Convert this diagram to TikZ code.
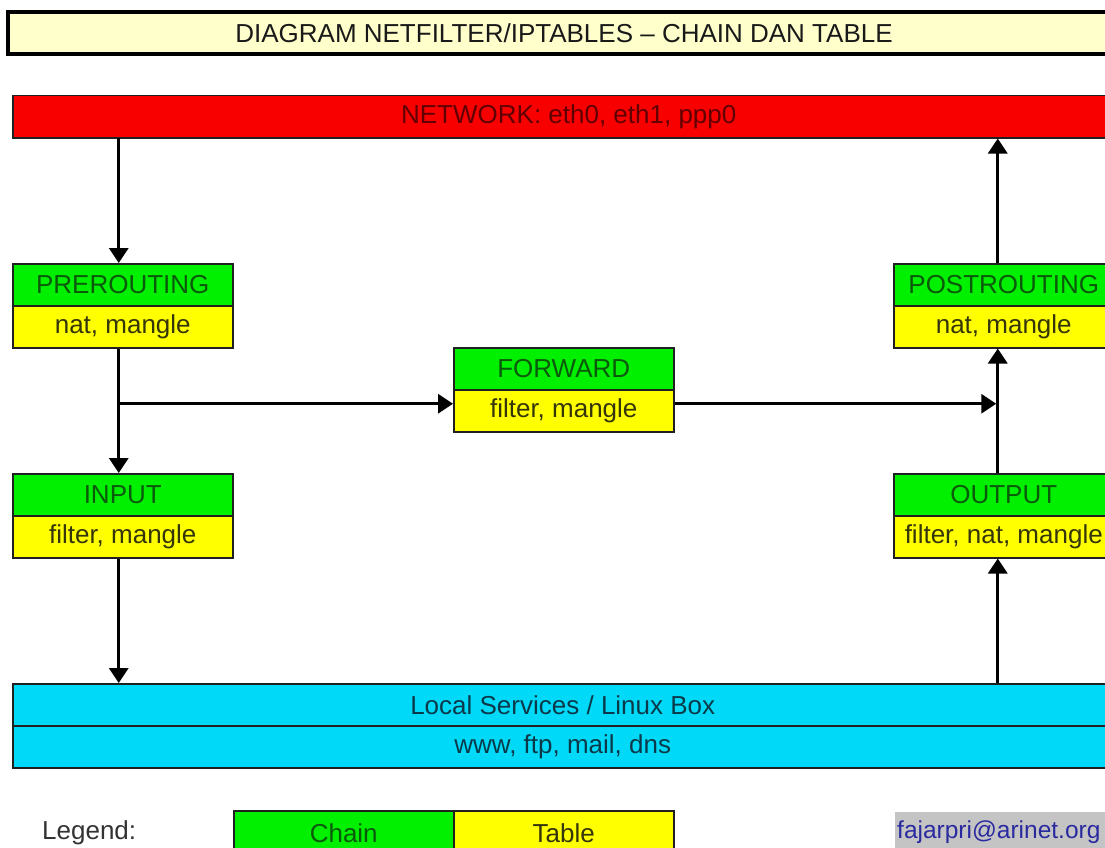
\documentclass[tikz,border=0pt]{standalone}
\usepackage{fontspec}
\setmainfont{Liberation Sans}
\usetikzlibrary{arrows.meta}
\definecolor{chaingreen}{HTML}{00F000}
\definecolor{chaintext}{HTML}{0B5A0B}
\definecolor{tableyellow}{HTML}{FFFF00}
\definecolor{tabletext}{HTML}{35350A}
\definecolor{netred}{HTML}{F80000}
\definecolor{nettext}{HTML}{600000}
\definecolor{loccyan}{HTML}{00DAF8}
\definecolor{loctext}{HTML}{0A3A4A}
\definecolor{titlefill}{HTML}{FFFFCC}
\definecolor{boxline}{HTML}{202020}
\definecolor{mailgray}{HTML}{C4C4C4}
\definecolor{mailblue}{HTML}{2A2AA0}
\begin{document}
\begin{tikzpicture}[x=1pt,y=-1pt,
  font=\fontsize{26}{30}\selectfont,
  box/.style={draw=boxline, line width=1.5pt, minimum width=220pt, minimum height=42pt, inner sep=0pt, anchor=north west},
  chainbox/.style={box, fill=chaingreen, text=chaintext},
  tablebox/.style={box, fill=tableyellow, text=tabletext},
  arr/.style={line width=3.2pt, -{Triangle[length=15pt,width=19pt]}}]
\useasboundingbox (0,0) rectangle (1105,848);
\clip (0,0) rectangle (1105,848);
\fill[white] (0,0) rectangle (1105,848);

% title
\node[draw=black, line width=4pt, fill=titlefill, text=black!90, minimum width=1112pt, minimum height=42pt, inner sep=0pt, anchor=north west] (title) at (6,10) {DIAGRAM NETFILTER/IPTABLES -- CHAIN DAN TABLE};

% network
\node[box, fill=netred, text=nettext, minimum width=1112pt] (net) at (12,95) {NETWORK: eth0, eth1, ppp0};

% left column
\node[chainbox] (pre) at (12,263) {PREROUTING};
\node[tablebox] (pretab) at (12,305) {nat, mangle};
\node[chainbox] (inp) at (12,473) {INPUT};
\node[tablebox] (inptab) at (12,515) {filter, mangle};

% forward
\node[chainbox] (fwd) at (453,347) {FORWARD};
\node[tablebox] (fwdtab) at (453,389) {filter, mangle};

% right column
\node[chainbox] (post) at (893,263) {POSTROUTING};
\node[tablebox] (posttab) at (893,305) {nat, mangle};
\node[chainbox] (out) at (893,473) {OUTPUT};
\node[tablebox] (outtab) at (893,515) {filter, nat, mangle};

% local services
\node[box, fill=loccyan, text=loctext, minimum width=1100pt] (loc) at (12,683) {Local Services / Linux Box};
\node[box, fill=loccyan, text=loctext, minimum width=1100pt] (locsvc) at (12,725) {www, ftp, mail, dns};

% connectors
\coordinate (lx) at ([xshift=-4pt]pre.south);
\coordinate (rx) at ([xshift=-6pt]out.south);
\coordinate (fin) at ([yshift=7pt]fwdtab.west);
\coordinate (fout) at ([yshift=7pt]fwdtab.east);

\draw[arr] (lx |- net.south) -- (lx |- pre.north);
\draw[arr] (lx |- pretab.south) -- (lx |- inp.north);
\draw[arr] (lx |- fin) -- (fin);
\draw[arr, shorten >=1.5pt] (fout) -- (rx |- fout);
\draw[arr] (lx |- inptab.south) -- (lx |- loc.north);
\draw[arr] (rx |- loc.north) -- (rx |- outtab.south);
\draw[arr] (rx |- out.north) -- (rx |- posttab.south);
\draw[arr] (rx |- post.north) -- (rx |- net.south);

% legend
\node[anchor=west, text=black!80, inner sep=0pt] (leg) at (42,833) {Legend:};
\node[chainbox, minimum height=50pt] (legchain) at (233,810) {};
\node[text=chaintext] at ([yshift=-23pt]legchain.north) {Chain};
\node[tablebox, minimum height=50pt] (legtable) at (453,810) {};
\node[text=tabletext] at ([yshift=-23pt]legtable.north) {Table};

% email
\fill[mailgray] (895,812) rectangle (1110,852);
\node[text=mailblue, anchor=west, inner sep=0pt, font=\fontsize{24.5}{28}\selectfont] (mail) at (897,832) {fajarpri@arinet.org};
\end{tikzpicture}
\end{document}
